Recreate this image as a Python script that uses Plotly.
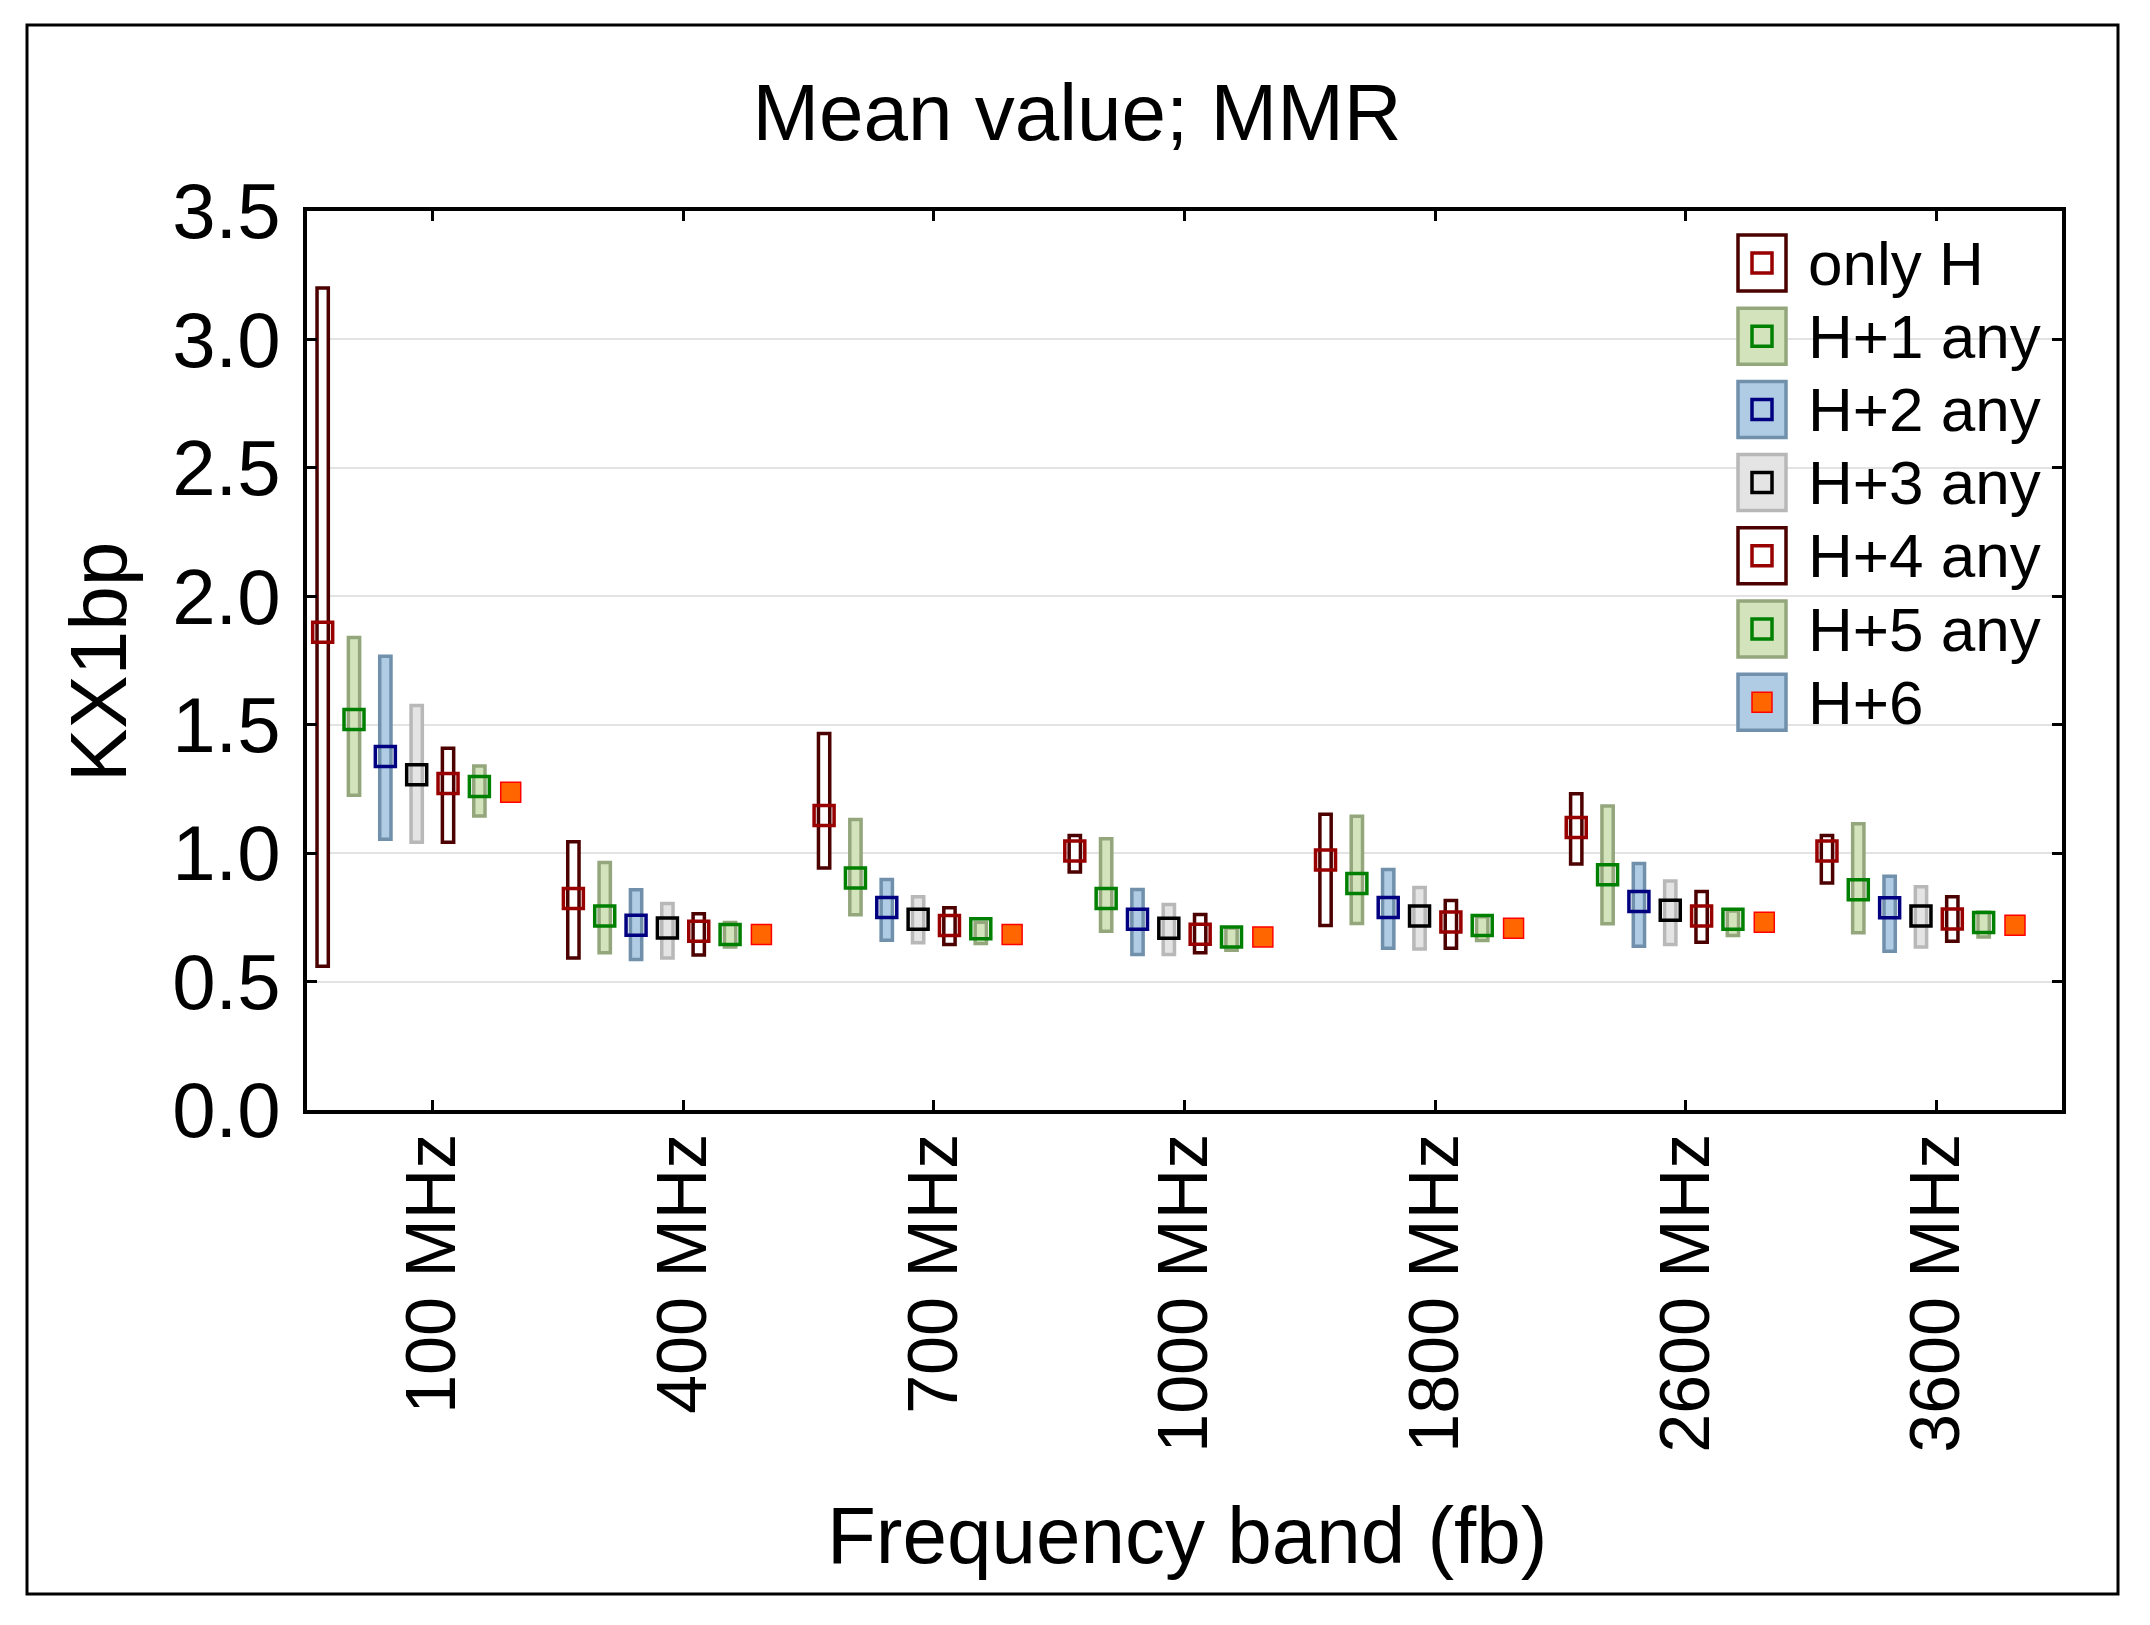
import plotly.graph_objects as go

# ---------------- data ----------------
categories = ["100 MHz", "400 MHz", "700 MHz", "1000 MHz", "1800 MHz", "2600 MHz", "3600 MHz"]
series_names = ["only H", "H+1 any", "H+2 any", "H+3 any", "H+4 any", "H+5 any", "H+6"]

mean_onlyH = [1.86, 0.823, 1.147, 1.008, 0.973, 1.100, 1.008]
mean_h1 = [1.52, 0.755, 0.903, 0.823, 0.882, 0.916, 0.857]
mean_h2 = [1.376, 0.719, 0.788, 0.743, 0.788, 0.812, 0.787]
mean_h3 = [1.305, 0.709, 0.743, 0.708, 0.755, 0.778, 0.755]
mean_h4 = [1.271, 0.696, 0.718, 0.684, 0.732, 0.755, 0.744]
mean_h5 = [1.259, 0.683, 0.706, 0.674, 0.718, 0.743, 0.730]
mean_h6 = [1.237, 0.683, 0.683, 0.674, 0.708, 0.731, 0.719]

low_onlyH = [0.56, 0.592, 0.942, 0.927, 0.718, 0.958, 0.884]
low_h1 = [1.225, 0.612, 0.760, 0.696, 0.726, 0.725, 0.690]
low_h2 = [1.054, 0.586, 0.661, 0.605, 0.630, 0.638, 0.618]
low_h3 = [1.042, 0.592, 0.651, 0.605, 0.627, 0.644, 0.635]
low_h4 = [1.042, 0.603, 0.644, 0.612, 0.630, 0.653, 0.657]
low_h5 = [1.145, 0.635, 0.648, 0.622, 0.660, 0.679, 0.674]
low_h6 = [1.225, 0.672, 0.672, 0.663, 0.697, 0.720, 0.708]

high_onlyH = [3.20, 1.044, 1.466, 1.069, 1.151, 1.231, 1.069]
high_h1 = [1.84, 0.964, 1.131, 1.056, 1.144, 1.184, 1.114]
high_h2 = [1.767, 0.857, 0.897, 0.858, 0.936, 0.960, 0.910]
high_h3 = [1.575, 0.804, 0.830, 0.800, 0.866, 0.892, 0.869]
high_h4 = [1.408, 0.764, 0.787, 0.761, 0.816, 0.851, 0.830]
high_h5 = [1.339, 0.730, 0.731, 0.709, 0.752, 0.775, 0.770]
high_h6 = [1.249, 0.694, 0.694, 0.685, 0.719, 0.742, 0.730]

y_ticks = [0.0, 0.5, 1.0, 1.5, 2.0, 2.5, 3.0, 3.5]

means = [mean_onlyH, mean_h1, mean_h2, mean_h3, mean_h4, mean_h5, mean_h6]
lows = [low_onlyH, low_h1, low_h2, low_h3, low_h4, low_h5, low_h6]
highs = [high_onlyH, high_h1, high_h2, high_h3, high_h4, high_h5, high_h6]

# ---------------- styles ----------------
RED_BOX = dict(fill="white", line="#4C0000", mk="#990000", mkfill=None, mkline="#990000")
GRN_BOX = dict(fill="#D3E4BC", line="#94A77C", mk="#008000", mkfill=None, mkline="#008000")
BLU_BOX = dict(fill="#B0CCE4", line="#7090AC", mk="#000080", mkfill=None, mkline="#000080")
GRY_BOX = dict(fill="#E4E4E4", line="#B8B8B8", mk="#000000", mkfill=None, mkline="#000000")
H6_BOX = dict(fill="#B0CCE4", line="#7090AC", mk="#FF6600", mkfill="#FF6600", mkline="#FF0000")
styles = [RED_BOX, GRN_BOX, BLU_BOX, GRY_BOX, RED_BOX, GRN_BOX, H6_BOX]

SLOT = 0.125
BAR_W = 0.045
FONT = "Liberation Sans, Arial, sans-serif"

fig = go.Figure()
n_cat = len(categories)
for k, name in enumerate(series_names):
    off = -0.5 + (k + 0.5) * SLOT
    xs = [i + off for i in range(n_cat)]
    st = styles[k]
    fig.add_trace(go.Bar(
        x=xs, base=lows[k], y=[h - l for h, l in zip(highs[k], lows[k])],
        width=BAR_W, name=name, showlegend=False,
        marker=dict(color=st["fill"], line=dict(color=st["line"], width=3.5)),
        hoverinfo="skip"))

for k, name in enumerate(series_names):
    off = -0.5 + (k + 0.5) * SLOT
    xs = [i + off for i in range(n_cat)]
    st = styles[k]
    if st["mkfill"] is None:
        mk = dict(symbol="square-open", size=20, color=st["mk"],
                  line=dict(width=3.5, color=st["mk"]))
    else:
        mk = dict(symbol="square", size=20, color=st["mkfill"],
                  line=dict(width=1.5, color=st["mkline"]))
    fig.add_trace(go.Scatter(x=xs, y=means[k], mode="markers", marker=mk,
                             name=name, showlegend=False))

# ---------------- layout ----------------
# page has an 8px body margin; figure sized to avoid scrollbars
W, H = 2134, 1609
L, T = 299, 203
R = W - (2062 - 8)
B = H - (1110 - 8)
pw, ph = W - L - R, H - T - B


def px2x(page_px):
    return (page_px - 8 - L) / pw


def px2y(page_py):
    return (H - B - (page_py - 8)) / ph


shapes = []
annotations = []
# outer frame
shapes.append(dict(type="rect", xref="paper", yref="paper",
                   x0=px2x(27), x1=px2x(2118), y0=px2y(1594), y1=px2y(25),
                   line=dict(color="black", width=3), fillcolor="rgba(0,0,0,0)",
                   layer="below"))

# legend (manual, mimicking the original box + marker swatches)
leg_cx = px2x(1762)
for k, name in enumerate(series_names):
    st = styles[k]
    cy = px2y(263 + 73.2 * k)
    shapes.append(dict(type="rect", xref="paper", yref="paper",
                       xsizemode="pixel", ysizemode="pixel",
                       xanchor=leg_cx, yanchor=cy, x0=-24, x1=24, y0=-28, y1=28,
                       fillcolor=st["fill"], line=dict(color=st["line"], width=3.5)))
    if st["mkfill"] is None:
        shapes.append(dict(type="rect", xref="paper", yref="paper",
                           xsizemode="pixel", ysizemode="pixel",
                           xanchor=leg_cx, yanchor=cy, x0=-10, x1=10, y0=-10, y1=10,
                           fillcolor="rgba(0,0,0,0)", line=dict(color=st["mk"], width=3.5)))
    else:
        shapes.append(dict(type="rect", xref="paper", yref="paper",
                           xsizemode="pixel", ysizemode="pixel",
                           xanchor=leg_cx, yanchor=cy, x0=-10, x1=10, y0=-10, y1=10,
                           fillcolor=st["mkfill"], line=dict(color=st["mkline"], width=1.5)))
    annotations.append(dict(xref="paper", yref="paper", x=px2x(1806), y=cy,
                            xanchor="left", yanchor="middle", showarrow=False,
                            text=name, font=dict(size=62, family=FONT, color="black")))

# axis titles
annotations.append(dict(xref="paper", yref="paper", x=px2x(1187), y=px2y(1535),
                        xanchor="center", yanchor="middle", showarrow=False,
                        text="Frequency band (fb)",
                        font=dict(size=80, family=FONT, color="black")))
annotations.append(dict(xref="paper", yref="paper", x=px2x(98), y=px2y(662),
                        xanchor="center", yanchor="middle", showarrow=False,
                        textangle=-90, text="KX1bp",
                        font=dict(size=80, family=FONT, color="black")))

fig.update_layout(
    width=W, height=H,
    margin=dict(l=L, r=R, t=T, b=B, autoexpand=False),
    paper_bgcolor="white", plot_bgcolor="white",
    barmode="overlay", showlegend=False,
    font=dict(family=FONT, color="black"),
    title=dict(text="Mean value; MMR", x=(1077 - 8) / W, xref="container", xanchor="center",
               y=1 - (112 - 8) / H, yref="container", yanchor="middle",
               font=dict(size=80, family=FONT, color="black")),
    shapes=shapes, annotations=annotations,
)
fig.update_xaxes(
    range=[-0.5, n_cat - 0.5], tickmode="array", tickvals=list(range(n_cat)),
    ticktext=categories, tickangle=-90, tickfont=dict(size=70, family=FONT),
    ticks="inside", ticklen=10, tickwidth=3, tickcolor="black",
    showline=True, linewidth=3.5, linecolor="black", mirror="allticks",
    showgrid=False, zeroline=False, ticklabelstandoff=-8,
)
fig.update_yaxes(
    range=[0, 3.5], tickmode="array", tickvals=y_ticks,
    ticktext=[f"{v:.1f}" for v in y_ticks], tickfont=dict(size=78, family=FONT),
    ticks="inside", ticklen=10, tickwidth=3, tickcolor="black",
    showline=True, linewidth=3.5, linecolor="black", mirror="allticks",
    showgrid=True, gridcolor="#E3E3E3", gridwidth=2, zeroline=False,
    ticklabelstandoff=7,
)

fig.write_html("out.html")
